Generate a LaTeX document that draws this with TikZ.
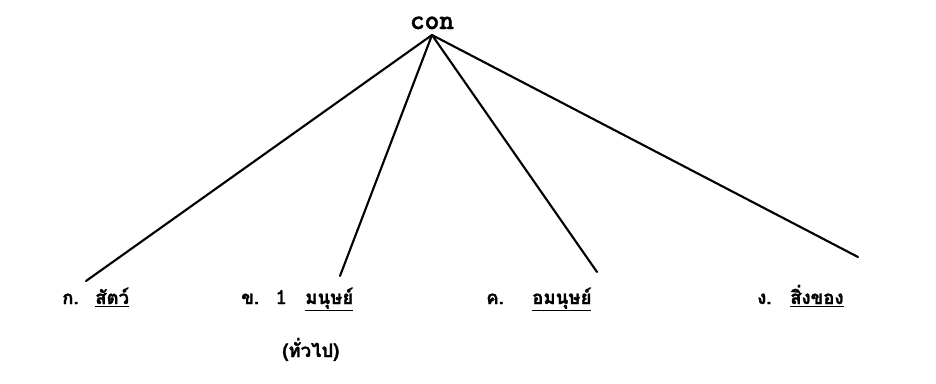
\documentclass[tikz,border=0pt]{standalone}
\usepackage{fontspec}
\newfontfamily\thaifont[Script=Thai,BoldFeatures={FakeBold=1.2}]{Loma}
\newfontfamily\monob{lmmonolt10-bold.otf}[FakeBold=1.5]
\begin{document}
\begin{tikzpicture}[x=0.0265cm,y=-0.0265cm,
  lbl/.style={inner sep=0pt,anchor=base west,font=\thaifont\bfseries\fontsize{14}{18}\selectfont},
  num/.style={inner sep=0pt,anchor=base west,font=\monob\fontsize{17}{20}\selectfont},
  rootlbl/.style={inner sep=0pt,anchor=base,font=\monob\fontsize{21}{24}\selectfont},
  edge/.style={line width=1.6pt,line cap=round}]
\useasboundingbox (0,0) rectangle (936,384);
\node[rootlbl] (root) at (432,29) {con};
\coordinate (apex) at (432,35);
\coordinate (ea) at (86,281);
\coordinate (eb) at (340,276);
\coordinate (ec) at (597,272);
\coordinate (ed) at (858,257);
\draw[edge] (apex) -- (ea);
\draw[edge] (apex) -- (eb);
\draw[edge] (apex) -- (ec);
\draw[edge] (apex) -- (ed);
\node[lbl] (pa) at (62,304) {ก.};
\node[lbl] (wa) at (95,304) {\underline{สัตว์}};
\node[lbl] (pb) at (241,304) {ข.};
\node[num] (nb) at (275,304) {1};
\node[lbl] (wb) at (305,304) {\underline{มนุษย์}};
\node[lbl] (pc) at (486,304) {ค.};
\node[lbl] (wc) at (532,304) {\underline{อมนุษย์}};
\node[lbl] (pd) at (757,304) {ง.};
\node[lbl] (wd) at (790,304) {\underline{สิ่งของ}};
\node[lbl] (gen) at (282,357) {(ทั่วไป)};
\end{tikzpicture}
\end{document}
